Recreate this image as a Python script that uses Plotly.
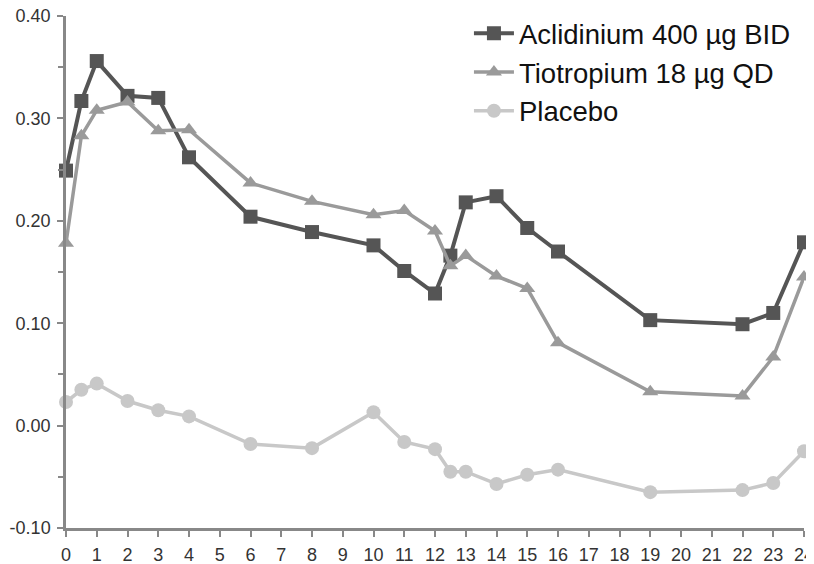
import plotly.graph_objects as go

hours = [0, 0.5, 1, 2, 3, 4, 6, 8, 10, 11, 12, 12.5, 13, 14, 15, 16, 19, 22, 23, 24]
aclidinium = [0.249, 0.317, 0.356, 0.322, 0.320, 0.262, 0.204, 0.189, 0.176, 0.151, 0.129, 0.166,
              0.218, 0.224, 0.193, 0.170, 0.103, 0.099, 0.110, 0.179]
tiotropium = [0.178, 0.283, 0.308, 0.316, 0.288, 0.289, 0.237, 0.219, 0.206, 0.210, 0.190, 0.156,
              0.166, 0.146, 0.134, 0.081, 0.033, 0.029, 0.067, 0.145]
placebo = [0.023, 0.035, 0.041, 0.024, 0.015, 0.009, -0.018, -0.022, 0.013, -0.016, -0.023, -0.045,
           -0.045, -0.057, -0.048, -0.043, -0.065, -0.063, -0.056, -0.025]

names = ["Aclidinium 400 \u00b5g BID", "Tiotropium 18 \u00b5g QD", "Placebo"]
x_ticks = list(range(0, 25))
y_ticks = [-0.10, 0.00, 0.10, 0.20, 0.30, 0.40]

fig = go.Figure()
fig.add_trace(go.Scatter(
    x=hours, y=aclidinium, name=names[0], mode="lines+markers", legendgroup="a",
    line=dict(color="#555555", width=4),
    marker=dict(symbol="square", size=14, color="#555555"), cliponaxis=False))
fig.add_trace(go.Scatter(
    x=hours, y=tiotropium, name=names[1], mode="lines+markers", legendgroup="t",
    line=dict(color="#9a9a9a", width=3.5),
    marker=dict(symbol="triangle-up", size=14, color="#9a9a9a"), cliponaxis=False))
fig.add_trace(go.Scatter(
    x=hours, y=placebo, name=names[2], mode="lines+markers", legendgroup="p",
    line=dict(color="#c8c8c8", width=3.5),
    marker=dict(symbol="circle", size=14, color="#c8c8c8"), cliponaxis=False))

# page body has an 8px margin, so the figure is smaller and shifted by 8px
fig.update_layout(
    width=806, height=556,
    margin=dict(l=58, r=10, t=8, b=36, autoexpand=False),
    paper_bgcolor="white", plot_bgcolor="white",
    font=dict(family="Liberation Sans, Arial, sans-serif", color="#333333"),
    showlegend=True,
    legend=dict(x=0.546, y=1.014, xanchor="left", yanchor="top",
                font=dict(size=27.5, color="#111111"), itemwidth=40,
                bgcolor="rgba(0,0,0,0)", tracegroupgap=0),
)
fig.update_xaxes(
    range=[0, 24], tickvals=x_ticks, ticktext=[str(v) for v in x_ticks],
    showgrid=False, zeroline=False, showline=True, linecolor="#888888", linewidth=2.5,
    ticks="outside", ticklen=6, tickwidth=1.5, tickcolor="#888888", automargin=False,
    ticklabeloverflow="allow", ticklabelstandoff=3,
    tickfont=dict(size=18, color="#333333",
                  family="Liberation Sans Narrow, Arial Narrow, Liberation Sans, sans-serif"))
fig.update_yaxes(
    range=[-0.10, 0.40], tickvals=y_ticks, ticktext=["%.2f" % v for v in y_ticks],
    showgrid=False, zeroline=False, showline=True, linecolor="#888888", linewidth=2.5,
    ticks="outside", ticklen=6, tickwidth=1.5, tickcolor="#888888", automargin=False,
    ticklabeloverflow="allow", ticklabelstandoff=3,
    tickfont=dict(size=18, color="#333333"),
    minor=dict(dtick=0.05, tick0=0, ticks="outside", ticklen=5, tickcolor="#888888", tickwidth=1.5))

fig.write_html("out.html")
